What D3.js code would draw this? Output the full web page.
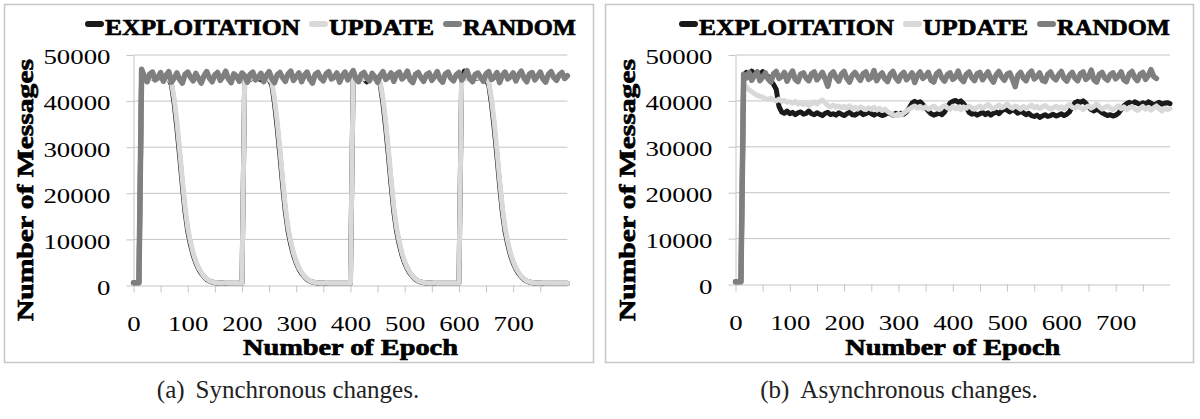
<!DOCTYPE html>
<html><head><meta charset="utf-8">
<script src="https://cdn.jsdelivr.net/npm/d3@7"></script>
<style>body{margin:0;background:#fff}svg{display:block}</style>
</head><body>
<svg id="c" width="1200" height="419"></svg>
<script>
// ---------- DATA ----------
const seriesNames = ["EXPLOITATION", "UPDATE", "RANDOM"];
const yTicks = [0, 10000, 20000, 30000, 40000, 50000];
const xTickLabels = [0, 100, 200, 300, 400, 500, 600, 700];
const xTickMarks = [0, 50, 100, 150, 200, 250, 300, 350, 400, 450, 500, 550, 600, 650, 700, 750];
const epochs = [0,5,10,15,20,25,30,35,40,45,50,55,60,65,70,75,80,85,90,95,100,105,110,115,120,125,130,135,140,145,150,155,160,165,170,175,180,185,190,195,200,205,210,215,220,225,230,235,240,245,250,255,260,265,270,275,280,285,290,295,300,305,310,315,320,325,330,335,340,345,350,355,360,365,370,375,380,385,390,395,400,405,410,415,420,425,430,435,440,445,450,455,460,465,470,475,480,485,490,495,500,505,510,515,520,525,530,535,540,545,550,555,560,565,570,575,580,585,590,595,600,605,610,615,620,625,630,635,640,645,650,655,660,665,670,675,680,685,690,695,700,705,710,715,720,725,730,735,740,745,750,755,760,765,770,775,780,785,790,795,800];

const syncExploitation = [
600,600,600,46000,45000,44900,45200,45000,44800,45100,
45000,44900,45100,44800,43500,39500,34200,28200,21800,16000,
11800,8900,6600,4900,3600,2600,1900,1300,950,750,
620,560,530,520,510,500,500,500,500,500,
500,45000,45100,44700,45000,45200,44900,44600,45000,44900,
44600,43500,39500,34200,28200,21800,16000,11800,8900,6600,
4900,3600,2600,1900,1300,950,750,620,560,530,
520,510,500,500,500,500,500,500,500,500,
500,45000,45100,44600,45000,44800,44200,45100,44900,45000,
44600,43500,39500,34200,28200,21800,16000,11800,8900,6600,
4900,3600,2600,1900,1300,950,750,620,560,530,
520,510,500,500,500,500,500,500,500,500,
500,45000,46500,45000,44800,45100,44900,45000,45200,44800,
44600,43500,39500,34200,28200,21800,16000,11800,8900,6600,
4900,3600,2600,1900,1300,950,750,620,560,530,
520,510,500,500,500,500,500,500,500,500,
500];
const syncUpdate = [
600,600,600,45200,45000,45100,44800,45200,45000,44900,
45100,44800,45000,44700,44000,40500,35500,29500,23000,17000,
12500,9500,7000,5200,3800,2800,2000,1400,1000,800,
650,580,550,530,520,510,500,500,500,500,
500,45000,45200,44800,45100,44900,45000,45200,44800,45000,
44700,44000,40500,35500,29500,23000,17000,12500,9500,7000,
5200,3800,2800,2000,1400,1000,800,650,580,550,
530,520,510,500,500,500,500,500,500,500,
500,45000,45100,44900,45200,44800,45000,45100,44900,45000,
44700,44000,40500,35500,29500,23000,17000,12500,9500,7000,
5200,3800,2800,2000,1400,1000,800,650,580,550,
530,520,510,500,500,500,500,500,500,500,
500,45000,45100,44800,45200,44900,45000,45100,44800,45000,
44700,44000,40500,35500,29500,23000,17000,12500,9500,7000,
5200,3800,2800,2000,1400,1000,800,650,580,550,
530,520,510,500,500,500,500,500,500,500,
500];
const syncRandom = [
600,600,600,46900,45300,44200,45900,46300,44600,45100,
46200,44300,45600,46400,44100,45000,46100,44700,43900,45800,
46300,45200,44400,46000,44900,43900,45500,46400,45000,44200,
45700,46200,44500,45300,46500,44800,44000,45900,45400,44300,
46100,45500,44100,45800,46300,44600,45200,46000,44200,45600,
46400,44900,44000,45700,46200,45100,44300,45900,46500,44500,
45300,46100,44200,45600,46300,44700,43900,45800,46200,45000,
44400,45900,46400,44800,45200,46100,44100,45500,46300,44600,
45700,46600,44900,44200,45800,46200,45000,44400,46000,45300,
44100,45600,46400,44700,45200,46100,44300,45900,46300,44800,
45400,46500,44600,44000,45800,46200,45100,44300,45700,46100,
44500,45300,46400,44800,44100,45900,46300,45000,44400,45700,
46200,44600,45500,46600,44900,44200,45800,46100,45200,44300,
45900,46400,44700,45100,46200,44000,45600,46300,44800,45300,
46100,44400,45700,46500,45000,44200,45900,46200,44600,45400,
46300,44800,44100,45800,46400,45100,44500,45700,46200,44900,
45500];

const asyncExploitation = [
600,600,600,45500,46200,45600,46500,45800,46300,45700,
46400,45400,45300,44400,43600,42500,38800,37600,37300,37800,
37200,37500,37000,37400,37600,37100,37300,37800,37200,37000,
37400,37100,36800,37300,37500,37000,37200,36900,37400,37100,
36800,37200,37600,37000,36900,37300,37500,37000,37200,37600,
37200,36900,37300,37100,36800,37000,37400,37200,36900,37300,
37000,37300,37100,37600,38500,39500,39900,39600,39800,39200,
38500,37800,37200,36900,37100,37400,37000,37600,38600,39500,
39900,40100,39700,40000,39400,38600,37500,37100,37300,36900,
37200,37500,37000,37400,36900,37300,37600,37200,37800,38200,
38000,37600,38100,37800,37300,37700,37400,37000,37300,36800,
36600,36900,36400,36700,37000,36600,36800,37100,36700,36900,
37200,36800,37100,37600,38800,39600,39900,39700,40000,39500,
38700,38100,37800,38200,37900,37400,37100,36800,37000,36700,
36900,37300,38100,38900,39400,39700,39300,39800,39500,39200,
39600,39300,39800,39500,39100,39400,39700,39300,39500,39600,
39400];
const asyncUpdate = [
600,600,600,43600,43000,42400,42000,41600,41200,41000,
40800,40500,40300,40600,40200,40000,40400,39900,40100,39700,
39800,39500,39900,39300,39600,39200,39500,39000,39400,39800,
39300,39900,40200,39600,39000,38700,39100,38600,38900,38500,
38800,38400,38900,38300,38600,38200,38700,38400,38100,38500,
38200,38600,38000,38400,37900,38200,37700,37300,37000,36800,
37200,36900,37400,37800,38200,38600,38900,38400,38800,38300,
38700,38200,38500,38900,38400,38100,38600,39000,38500,38200,
38800,38300,38600,38100,38700,38400,38900,38500,38200,38600,
38900,38400,38800,39200,38600,38300,38700,39100,38500,38800,
39300,38700,38400,38900,38600,38200,38800,38400,38700,39100,
38500,38800,38300,38700,39000,38600,38200,38500,38900,38400,
38700,38300,38800,39200,38600,38400,38900,38500,38100,38600,
38900,38400,38800,39300,38700,38200,38600,38900,38400,38100,
38500,38900,38300,38700,38100,38500,38800,38300,37900,38400,
38800,38200,38600,38000,38500,38900,38300,37800,38400,38100,
38300];
const asyncRandom = [
600,600,600,45800,45000,46200,44500,45600,46300,44400,
45200,46100,44800,44100,45900,46400,44900,45300,46200,44300,
45600,46500,44700,44200,45800,46100,45000,44400,45900,46300,
44600,45400,46200,44800,43200,45700,46300,45100,44300,45800,
46400,44900,44100,45600,46200,45300,44500,45900,46300,44700,
45100,46600,44400,45500,46100,44800,44200,45800,46400,45000,
44300,45700,46200,44600,45300,46100,44000,45600,46300,44900,
45400,46200,44500,44100,45900,46400,45000,44300,45700,46100,
44700,45200,46500,44800,44200,45800,46300,45100,44400,45900,
46200,44600,45500,46300,44900,44100,45700,46400,45200,44500,
45800,46100,44700,43100,45600,46200,45000,44400,45900,46500,
44800,45300,46100,44500,44200,45800,46300,45100,44600,45700,
46400,44900,44300,45600,46200,45000,44400,45900,46300,44700,
45200,46700,44600,44100,45800,46200,45000,44500,45700,46100,
44800,45400,46300,44600,44200,45900,46400,45100,44400,45800,
46200,44700,45500,46800,45300,44900];

const captionLabels = ["(a)", "(b)"];
const captionTexts = ["Synchronous changes.", "Asynchronous changes."];
const xTitle = "Number of Epoch";
const yTitle = "Number of Messages";

// ---------- STYLE / LAYOUT ----------
const colors = {EXPLOITATION: "#1a1a1a", UPDATE: "#d9d9d9", RANDOM: "#7f7f7f"};
const widths = {EXPLOITATION: 5, UPDATE: 5, RANDOM: 5.5};
const serif = "'Liberation Serif', 'Times New Roman', serif";
const legendWidths = [195, 105, 113];   // target rendered widths (px)
const tickStretch = 1.22;
const panels = [
  {box: [4.5, 4.5, 589, 358], plot: {l: 133.5, r: 567.4, t: 55, b: 285.5}, yTitleX: 25, legendX: 85,
   data: [syncExploitation, syncUpdate, syncRandom], capX: 288},
  {box: [605.5, 4.5, 588, 358], plot: {l: 735.5, r: 1170, t: 55, b: 284.5}, yTitleX: 627, legendX: 679,
   data: [asyncExploitation, asyncUpdate, asyncRandom], capX: 899}
];

const svg = d3.select("#c");

function stretch(sel, factor) {
  sel.each(function () {
    const w = this.getComputedTextLength();
    if (w > 0) d3.select(this).attr("textLength", w * factor).attr("lengthAdjust", "spacingAndGlyphs");
  });
}
function heavy(sel) {
  return sel.attr("font-family", serif).attr("font-weight", "bold").attr("fill", "#000")
    .attr("stroke", "#000").attr("stroke-width", 0.7).attr("stroke-linejoin", "round");
}

panels.forEach((p, pi) => {
  const g = svg.append("g");
  g.append("rect").attr("x", p.box[0]).attr("y", p.box[1]).attr("width", p.box[2]).attr("height", p.box[3])
    .attr("fill", "#fff").attr("stroke", "#c6c6c6").attr("stroke-width", 1.5);

  const x = d3.scaleLinear().domain([0, 800]).range([p.plot.l, p.plot.r]);
  const y = d3.scaleLinear().domain([0, 50000]).range([p.plot.b, p.plot.t]);

  // gridlines
  g.append("g").selectAll("line").data(yTicks.filter(v => v > 0)).join("line")
    .attr("x1", p.plot.l).attr("x2", p.plot.r)
    .attr("y1", d => y(d)).attr("y2", d => y(d))
    .attr("stroke", "#c4c4c4").attr("stroke-width", 1);

  // x axis
  const xa = g.append("g").attr("transform", `translate(0,${p.plot.b})`)
    .call(d3.axisBottom(x).tickValues(xTickMarks).tickSize(7).tickSizeOuter(0).tickPadding(23)
      .tickFormat(d => xTickLabels.includes(d) ? d3.format("d")(d) : ""));
  xa.select(".domain").attr("stroke", "#c4c4c4").attr("d", `M${p.plot.l},0.5H${p.plot.r}`);
  xa.selectAll(".tick line").attr("stroke", "#c4c4c4");
  xa.selectAll("text").attr("font-family", serif).attr("font-size", 22).attr("fill", "#000");
  stretch(xa.selectAll("text"), tickStretch);

  // y axis
  const ya = g.append("g").attr("transform", `translate(${p.plot.l},0)`)
    .call(d3.axisLeft(y).tickValues(yTicks).tickSize(7).tickSizeOuter(0).tickPadding(16).tickFormat(d3.format("d")));
  ya.select(".domain").attr("stroke", "#c4c4c4");
  ya.selectAll(".tick line").attr("stroke", "#c4c4c4");
  ya.selectAll("text").attr("font-family", serif).attr("font-size", 22).attr("fill", "#000").attr("dy", "0.40em");
  stretch(ya.selectAll("text"), tickStretch);

  // lines
  const line = d3.line().x((d, i) => x(epochs[i])).y(d => y(d));
  seriesNames.forEach((name, si) => {
    g.append("path").datum(p.data[si]).attr("d", line)
      .attr("fill", "none").attr("stroke", colors[name]).attr("stroke-width", widths[name])
      .attr("stroke-linejoin", "round").attr("stroke-linecap", "round");
  });

  // axis titles
  heavy(g.append("text").attr("x", (p.plot.l + p.plot.r) / 2).attr("y", 355)
    .attr("text-anchor", "middle").attr("font-size", 23))
    .attr("textLength", 215).attr("lengthAdjust", "spacingAndGlyphs").text(xTitle);
  heavy(g.append("text").attr("transform", `translate(${p.yTitleX},190) rotate(-90)`).attr("dy", "0.35em")
    .attr("text-anchor", "middle").attr("font-size", 23))
    .attr("textLength", 262).attr("lengthAdjust", "spacingAndGlyphs").text(yTitle);

  // legend
  let lx = p.legendX;
  seriesNames.forEach((name, i) => {
    g.append("line").attr("x1", lx + 3).attr("x2", lx + 16).attr("y1", 24).attr("y2", 24)
      .attr("stroke", colors[name]).attr("stroke-width", 6).attr("stroke-linecap", "round");
    heavy(g.append("text").attr("x", lx + 20).attr("y", 35).attr("font-size", 23))
      .attr("textLength", legendWidths[i]).attr("lengthAdjust", "spacingAndGlyphs").text(name);
    lx += 20 + legendWidths[i] + 9;
  });

  // caption
  const cap = svg.append("text").attr("x", p.capX).attr("y", 398).attr("text-anchor", "middle")
    .attr("font-family", serif).attr("font-size", 25).attr("fill", "#222");
  cap.append("tspan").text(captionLabels[pi]);
  cap.append("tspan").attr("dx", 11).text(captionTexts[pi]);
});
</script>
</body></html>
